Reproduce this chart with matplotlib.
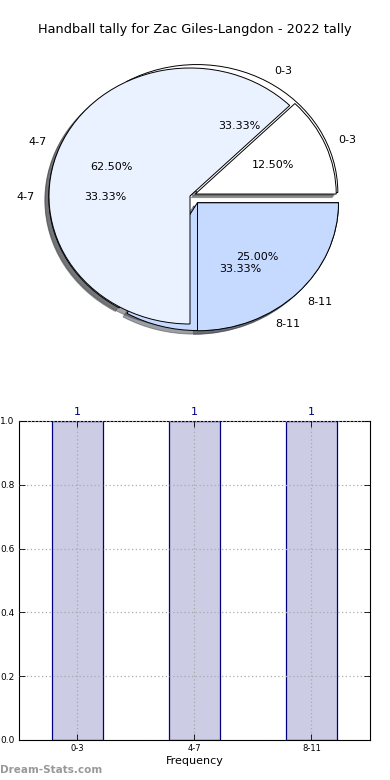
import matplotlib
matplotlib.use("Agg")
import matplotlib.pyplot as plt

title = "Handball tally for Zac Giles-Langdon - 2022 tally"
categories = ["0-3", "4-7", "8-11"]
pie_outer_values = [1, 1, 1]          # 33.33% each
pie_inner_values = [12.5, 62.5, 25.0]  # percent shares
bar_values = [1, 1, 1]
pie_colors = ["#ffffff", "#eaf1ff", "#c6d9ff"]

fig = plt.figure(figsize=(3.9, 7.8), dpi=100)
fig.patch.set_facecolor("white")
fig.text(0.5, 1 - 30 / 780, title, ha="center", va="center", fontsize=9.3)

# ---- Pie ----
rx, ry = 141, 128
cx, cy = 190, 196
w, h = 2.5 * rx, 2.5 * ry
axp = fig.add_axes([(cx - w / 2) / 390, 1 - (cy + h / 2) / 780, w / 390, h / 780])
wp = dict(edgecolor="black", linewidth=0.7)
axp.pie(pie_outer_values, labels=categories, colors=pie_colors, autopct="%.2f%%",
        explode=[0.04, 0.03, 0.05], shadow=True, startangle=0, wedgeprops=wp,
        center=(4 / rx, -1 / ry), textprops=dict(fontsize=8))
axp.pie(pie_inner_values, labels=categories, colors=pie_colors, autopct="%.2f%%",
        explode=[0.04, 0.0, 0.075], shadow=True, startangle=0, wedgeprops=wp,
        textprops=dict(fontsize=8))
axp.set_aspect("auto")
axp.set_xlim(-1.25, 1.25)
axp.set_ylim(-1.25, 1.25)
axp.axis("off")

# ---- Bars ----
axb = fig.add_axes([0.0487, 0.0513, 0.9, 0.409])
x = range(len(categories))
bars = axb.bar(x, bar_values, width=0.44, facecolor=(0, 0, 0.5, 0.2),
               edgecolor="navy", linewidth=0.9, zorder=1)
for xi, v in zip(x, bar_values):
    axb.text(xi, v + 0.012, str(v), ha="center", va="bottom", color="navy", fontsize=8)
axb.set_xlim(-0.5, 2.5)
axb.set_ylim(0, 1.0)
axb.set_xticks(list(x))
axb.set_xticklabels(categories, fontsize=6)
axb.set_yticks([0.0, 0.2, 0.4, 0.6, 0.8, 1.0])
axb.set_yticklabels(["0.0", "0.2", "0.4", "0.6", "0.8", "1.0"], fontsize=6.5)
axb.tick_params(direction="in", length=4, top=True, right=True, width=0.6, pad=3)
axb.grid(True, linestyle=(0, (1, 2)), color="#aaaaaa", linewidth=0.9)
axb.set_axisbelow(False)
axb.set_xlabel("Frequency", fontsize=8, labelpad=2)
for s in axb.spines.values():
    s.set_linewidth(0.8)

fig.text(0.0, 1 - 770 / 780, "Dream-Stats.com", ha="left", va="center",
         fontsize=7.5, color="#999999", fontweight="bold")

fig.savefig("out.png", dpi=100)
